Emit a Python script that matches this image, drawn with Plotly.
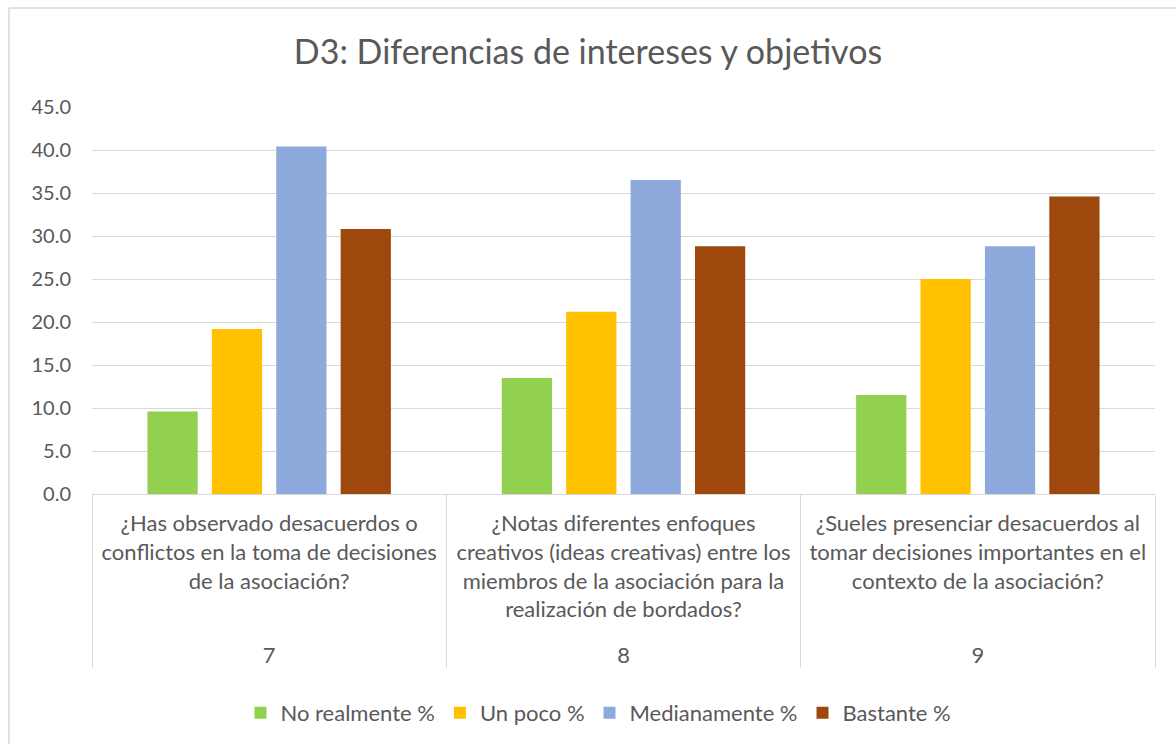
import plotly.graph_objects as go

numbers = ["7", "8", "9"]
questions = [
    "¿Has observado desacuerdos o<br>conflictos en la toma de decisiones<br>de la asociación?",
    "¿Notas diferentes enfoques<br>creativos (ideas creativas) entre los<br>miembros de la asociación para la<br>realización de bordados?<br><span style='font-size:12px'> </span>",
    "¿Sueles presenciar desacuerdos al<br>tomar decisiones importantes en el<br>contexto de la asociación?",
]
series_names = ["No realmente %", "Un poco %", "Medianamente %", "Bastante %"]
no_realmente = [9.6, 13.5, 11.5]
un_poco = [19.2, 21.2, 25.0]
medianamente = [40.4, 36.5, 28.8]
bastante = [30.8, 28.8, 34.6]
colors = ["#92D050", "#FFC000", "#8EA9DB", "#9E480E"]

FONT = "Lato"
GREY = "#595959"

fig = go.Figure()
for name, vals, col in zip(series_names, [no_realmente, un_poco, medianamente, bastante], colors):
    fig.add_trace(go.Bar(
        x=[numbers, questions], y=vals, name=name,
        marker=dict(color=col, line=dict(width=0)),
    ))

fig.update_layout(
    width=1176, height=744,
    paper_bgcolor="white", plot_bgcolor="white",
    margin=dict(l=92, r=21, t=107, b=250, autoexpand=False),
    barmode="group", bargap=0.273, bargroupgap=0.22,
    title=dict(text="D3: Diferencias de intereses y objetivos", x=0.5, xanchor="center",
               y=1 - 52 / 744, yanchor="middle",
               font=dict(family=FONT, size=34, color=GREY)),
    font=dict(family=FONT, size=22, color=GREY),
    legend=dict(orientation="h", x=0.5 - 25 / 1063, xanchor="center", y=-(713 - 494) / 387, yanchor="middle",
                font=dict(family=FONT, size=22, color=GREY), itemwidth=30, traceorder="normal"),
    showlegend=True,
)
fig.update_yaxes(range=[0, 45], dtick=5, tickformat=".1f", showgrid=True, gridcolor="#D9D9D9",
                 gridwidth=1, zeroline=False, showline=False, ticks="", ticklabelstandoff=20,
                 tickfont=dict(family=FONT, size=20, color=GREY), automargin=False)
fig.update_xaxes(showline=True, linecolor="#D9D9D9", linewidth=1, showdividers=True,
                 dividercolor="#D9D9D9", dividerwidth=1, ticks="", ticklabelstandoff=10,
                 tickfont=dict(family=FONT, size=22, color=GREY), automargin=False)

# chart border
fig.add_shape(type="line", xref="paper", yref="paper", x0=(9 - 92) / 1063, x1=1.05,
              y0=1 + (107 - 8) / 387, y1=1 + (107 - 8) / 387, line=dict(color="#D9D9D9", width=1.5))
fig.add_shape(type="line", xref="paper", yref="paper", x0=(9 - 92) / 1063, x1=(9 - 92) / 1063,
              y0=1 + (107 - 8) / 387, y1=-(744 - 494) / 387 - 0.05, line=dict(color="#D9D9D9", width=1.5))

fig.write_html("out.html", config={"displayModeBar": False},
               post_script="document.body.style.margin='0';document.body.style.overflow='hidden';")
